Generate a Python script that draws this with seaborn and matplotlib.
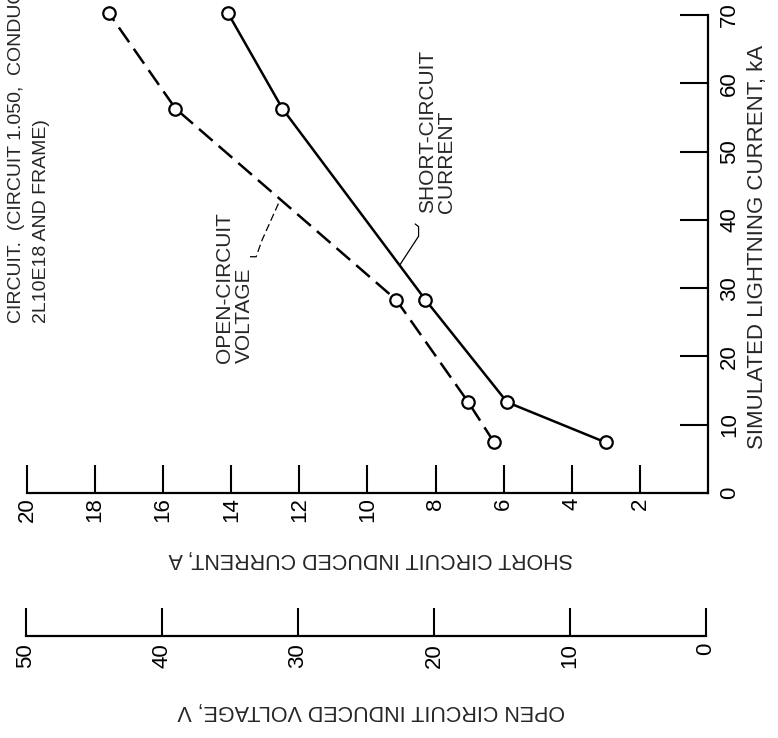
# induced current / voltage vs simulated lightning current (page is turned on its side)
import matplotlib
matplotlib.use('Agg')
import matplotlib.pyplot as plt
import seaborn as sns
import pandas as pd

# values
lightning_ka = [7.4, 13.3, 28.3, 56.3, 70.3]
short_circuit_a = [3.0, 5.9, 8.3, 12.5, 14.1]
open_circuit_v = [15.7, 17.6, 22.9, 39.1, 44.0]

current_ticks = [2, 4, 6, 8, 10, 12, 14, 16, 18, 20]
voltage_ticks = [0, 10, 20, 30, 40, 50]
ka_ticks = [0, 10, 20, 30, 40, 50, 60, 70]

sns.set_style('white')
plt.rcParams['font.family'] = ['Liberation Sans Narrow', 'Liberation Sans', 'DejaVu Sans']

W, H = 778, 738
fig = plt.figure(figsize=(W / 100, H / 100), dpi=100)


def fx(px):
    return px / W


def fy(py):
    return 1 - py / H


df = pd.DataFrame({'ka': lightning_ka, 'amps': short_circuit_a, 'volts': open_circuit_v})

# main axes: current across (reversed), lightning current upward
ax = fig.add_axes([fx(27), fy(493), fx(708) - fx(27), fy(15) - fy(493)])
sns.lineplot(data=df, x='amps', y='ka', ax=ax, sort=False, orient='y', color='black',
             linewidth=1.8, marker='o', markersize=9, markerfacecolor='white',
             markeredgecolor='black', markeredgewidth=1.6, legend=False, clip_on=False)
ax.set_xlim(20, 0)
ax.set_ylim(0, 70)
ax.set_xlabel('')
ax.set_ylabel('')
for s in ['top', 'left']:
    ax.spines[s].set_visible(False)
for s in ['bottom', 'right']:
    ax.spines[s].set_linewidth(1.6)
    ax.spines[s].set_color('black')

ax.set_xticks(current_ticks)
ax.set_xticklabels([str(t) for t in current_ticks], rotation=90, fontsize=16)
ax.tick_params(axis='x', direction='in', length=20, width=1.5, pad=3, colors='black',
               bottom=True)
ax.yaxis.tick_right()
ax.set_yticks(ka_ticks)
ax.set_yticklabels([str(t) for t in ka_ticks], rotation=90, va='center', fontsize=16)
ax.tick_params(axis='y', direction='in', length=20, width=1.5, pad=8, colors='black',
               left=False, right=True)

# voltage curve on a twin with the voltage scale
ax2 = ax.twiny()
sns.lineplot(data=df, x='volts', y='ka', ax=ax2, sort=False, orient='y', color='black',
             linewidth=1.8, legend=False, clip_on=False)
ax2.lines[0].set_dashes((7.2, 3.2))
sns.scatterplot(data=df, x='volts', y='ka', ax=ax2, s=80, facecolor='white',
                edgecolor='black', linewidth=1.6, zorder=5, legend=False, clip_on=False)
ax2.set_xlim(50, 0)
ax2.set_ylim(0, 70)
ax2.axis('off')

# separate voltage scale below
axv = fig.add_axes([fx(26), fy(636), fx(706) - fx(26), 0.01])
axv.set_xlim(50, 0)
axv.set_yticks([])
for s in ['top', 'left', 'right']:
    axv.spines[s].set_visible(False)
axv.spines['bottom'].set_linewidth(1.6)
axv.spines['bottom'].set_color('black')
axv.set_xticks(voltage_ticks)
axv.set_xticklabels([str(t) for t in voltage_ticks], rotation=90, fontsize=16)
axv.tick_params(axis='x', direction='in', length=20, width=1.5, pad=5, colors='black',
                bottom=True)
axv.patch.set_visible(False)

# axis titles
fig.text(fx(371), fy(558), 'SHORT CIRCUIT INDUCED CURRENT, A', rotation=180,
         ha='center', va='center', fontsize=15.5)
fig.text(fx(371), fy(710), 'OPEN CIRCUIT INDUCED VOLTAGE, V', rotation=180,
         ha='center', va='center', fontsize=15.5)
fig.text(fx(757), fy(247), 'SIMULATED LIGHTNING CURRENT, kA', rotation=90,
         ha='center', va='center', fontsize=16)

# caption fragment on the left (runs off the top, as on the page)
fig.text(fx(29), fy(323), 'CIRCUIT.  (CIRCUIT 1.050,  CONDUCTOR\n2L10E18 AND FRAME)',
         rotation=90, rotation_mode='anchor', ha='left', va='center',
         multialignment='left', fontsize=14, linespacing=1.55)

# curve labels with leaders
ax.text(13.9, 19.0, 'OPEN-CIRCUIT\nVOLTAGE', rotation=90, rotation_mode='anchor',
        ha='left', va='center', multialignment='left', fontsize=15, linespacing=1.05)
ax.plot([13.45, 13.27, 13.1, 12.57], [34.6, 34.6, 37.0, 42.9], color='black',
        linewidth=0.9, dashes=(6, 3))
ax.text(7.96, 41.0, 'SHORT-CIRCUIT\nCURRENT', rotation=90, rotation_mode='anchor',
        ha='left', va='center', multialignment='left', fontsize=15, linespacing=1.05)
ax.plot([8.6, 8.5, 8.5, 9.05], [39.4, 39.0, 37.6, 33.4], color='black', linewidth=0.9)

fig.savefig('out.png', dpi=100, facecolor='white')
